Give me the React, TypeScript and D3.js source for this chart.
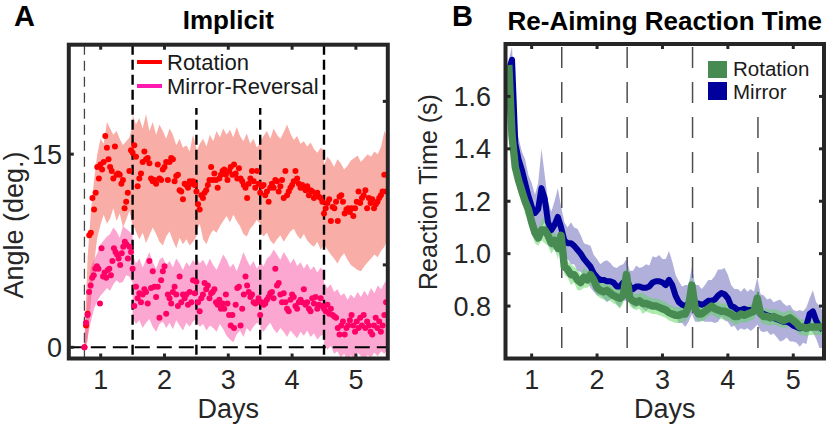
import React from "react";
import * as d3 from "d3";

const FONT = "'Liberation Sans', Arial, Helvetica, sans-serif";

// ---------- Panel A: implicit angle (deg.), one array per day block ----------
const blockStarts = [0.745, 1.5, 2.5, 3.5, 4.5];
const blockEnds = [1.5, 2.5, 3.5, 4.5, 5.5];

const rotationAngle = [
  [0.0, 1.7, 2.6, 8.7, 8.9, 11.6, 10.7, 12.0, 14.0, 13.1, 14.2, 13.8, 14.4, 16.4, 15.5, 14.6, 14.0, 13.7, 13.1, 15.6, 13.4, 13.5, 13.4, 12.7, 13.0, 10.8, 11.3, 12.0, 13.7, 15.3],
  [15.1, 15.7, 14.8, 12.5, 13.1, 13.5, 14.4, 15.2, 14.6, 14.7, 14.3, 13.1, 12.9, 13.0, 12.7, 14.2, 13.1, 13.0, 13.8, 14.0, 14.4, 13.0, 14.4, 14.7, 14.6, 12.9, 13.3, 13.4, 12.2, 12.1, 11.5, 12.7, 12.6, 12.4, 12.9, 12.7, 12.9, 12.6],
  [12.1, 11.1, 10.7, 11.8, 11.6, 12.0, 12.2, 12.6, 13.0, 14.0, 13.0, 13.5, 13.0, 12.4, 13.1, 13.4, 13.7, 13.8, 13.4, 13.0, 13.7, 14.0, 13.4, 14.2, 13.5, 13.1, 13.9, 13.1, 12.9, 12.6, 12.4, 11.6, 12.7, 13.1, 13.7, 12.9, 12.4, 13.7, 12.7],
  [12.0, 12.5, 12.6, 11.8, 12.1, 11.3, 12.4, 12.7, 12.4, 13.0, 12.9, 12.1, 12.5, 13.0, 11.6, 13.7, 11.8, 12.1, 12.4, 12.6, 12.9, 13.7, 13.1, 12.7, 12.4, 12.6, 12.4, 12.2, 12.5, 11.8, 12.2, 12.1, 11.6, 11.8, 12.0, 11.7, 11.6, 11.3],
  [10.4, 10.8, 11.2, 11.5, 9.8, 10.9, 10.8, 11.3, 9.8, 11.7, 11.8, 11.3, 10.4, 10.7, 10.8, 10.5, 10.8, 10.2, 10.8, 11.3, 12.1, 11.2, 11.6, 11.8, 12.2, 10.8, 11.6, 11.2, 11.5, 10.8, 11.1, 11.3, 11.6, 11.8, 12.1, 13.4, 12.1],
];
const mirrorAngle = [
  [0.0, 1.9, 2.5, 4.3, 4.8, 5.4, 5.6, 6.1, 6.3, 6.1, 3.4, 7.7, 5.5, 5.8, 5.4, 6.0, 6.1, 5.6, 6.7, 7.7, 7.4, 7.2, 6.9, 6.4, 7.3, 7.8, 8.2, 8.0, 6.9, 7.8, 7.4],
  [6.1, 3.2, 4.7, 3.8, 4.2, 3.5, 4.1, 4.5, 4.3, 3.4, 6.7, 4.6, 5.9, 4.7, 3.9, 4.7, 2.3, 5.2, 5.9, 6.3, 2.6, 4.1, 3.8, 3.4, 4.3, 4.7, 4.1, 3.2, 5.5, 3.5, 4.1, 3.8, 4.1, 3.3, 4.3, 3.5, 5.2, 4.2],
  [5.1, 3.5, 2.8, 3.8, 4.1, 5.0, 4.5, 4.8, 3.8, 4.2, 4.3, 4.5, 3.5, 3.3, 3.7, 3.0, 3.4, 3.0, 4.1, 3.4, 2.5, 1.7, 2.5, 1.5, 3.3, 4.6, 4.7, 1.7, 3.0, 4.1, 5.5, 4.8, 4.3, 3.9, 4.1, 3.5, 3.4, 3.5, 3.8],
  [2.5, 3.5, 3.3, 3.4, 3.7, 3.9, 4.2, 4.3, 3.8, 6.1, 4.8, 5.0, 4.1, 3.5, 4.2, 3.5, 3.0, 2.8, 3.7, 4.1, 3.9, 3.2, 3.0, 3.5, 3.7, 3.5, 4.5, 3.3, 3.5, 3.0, 2.8, 3.8, 3.4, 3.9, 3.0, 3.3, 3.8, 3.2],
  [3.0, 2.8, 3.3, 2.6, 3.0, 2.5, 2.4, 2.3, 1.5, 1.0, 1.7, 2.0, 1.0, 1.5, 1.7, 2.1, 2.5, 1.7, 1.2, 2.0, 1.5, 2.3, 1.7, 2.5, 1.5, 2.0, 1.7, 1.2, 1.0, 1.7, 2.3, 1.5, 2.0, 1.2, 1.7, 2.5, 3.5],
];

// shaded error bands (upper / lower edge), per day block
const rotationHigh = [
  [0.5, 7.0, 10.5, 13.0, 15.0, 16.2, 15.8, 17.5, 17.0, 16.5, 16.8, 16.2, 15.7, 16.0, 16.3, 17.2],
  [18.1, 17.3, 17.8, 17.0, 18.1, 16.8, 17.5, 16.5, 17.3, 16.8, 16.2, 17.0, 16.5, 15.7, 16.2, 15.5, 15.7, 15.2, 16.5, 15.5],
  [15.2, 15.8, 16.2, 15.6, 16.5, 16.0, 16.8, 16.3, 17.0, 16.5, 16.9, 16.3, 17.1, 16.4, 16.0, 16.6, 15.8, 16.2, 15.5, 15.9],
  [16.0, 16.4, 16.8, 16.2, 17.0, 16.5, 16.2, 16.7, 17.3, 16.6, 16.1, 16.4, 15.8, 16.0, 15.6, 15.9, 15.4, 15.1, 15.5, 15.3],
  [14.2, 14.8, 14.5, 14.0, 14.6, 14.3, 13.8, 14.1, 14.5, 14.7, 14.9, 14.4, 14.7, 15.0, 14.8, 15.2, 15.0, 15.6, 16.8, 16.2],
];
const rotationLow = [
  [-0.3, 0.5, 3.5, 6.5, 8.5, 9.5, 10.3, 9.6, 10.0, 10.8, 9.8, 10.4, 9.3, 9.9, 10.6, 9.4],
  [9.6, 9.0, 8.4, 8.9, 8.1, 8.7, 9.3, 8.8, 8.2, 7.9, 8.6, 9.0, 8.3, 7.7, 8.5, 8.0, 8.4, 7.9, 8.2, 8.6],
  [9.0, 9.6, 8.4, 8.0, 8.7, 9.1, 8.9, 9.4, 9.8, 10.2, 9.7, 10.3, 9.8, 9.4, 8.8, 8.6, 9.2, 9.5, 9.9, 9.6],
  [9.0, 8.6, 8.9, 8.3, 8.0, 8.4, 8.7, 8.2, 8.6, 9.0, 9.2, 8.7, 8.4, 8.8, 8.3, 8.0, 7.8, 8.2, 7.6, 7.9],
  [8.0, 7.6, 7.2, 6.9, 6.5, 7.0, 7.3, 6.8, 6.4, 6.2, 6.0, 5.9, 6.3, 6.6, 6.9, 7.2, 7.0, 7.5, 7.8, 8.5],
];
const mirrorHigh = [
  [0.3, 4.0, 6.2, 6.8, 7.3, 8.0, 8.3, 8.6, 8.8, 9.3, 9.0, 8.5, 9.4, 9.2, 9.0, 8.7],
  [7.2, 6.5, 6.9, 6.2, 6.8, 7.4, 6.6, 6.1, 6.8, 7.0, 6.4, 6.7, 6.2, 6.9, 6.5, 6.0, 6.6, 6.3, 6.8, 6.4],
  [7.0, 6.5, 6.8, 6.3, 6.9, 6.4, 6.0, 6.6, 7.2, 6.8, 6.2, 6.5, 5.9, 6.6, 7.4, 6.8, 6.3, 6.7, 6.1, 6.5],
  [6.6, 6.3, 6.9, 7.1, 7.6, 7.2, 6.8, 7.4, 7.0, 6.5, 6.9, 6.3, 6.6, 6.1, 6.5, 6.0, 6.3, 5.8, 6.2, 5.9],
  [5.0, 4.6, 4.9, 4.3, 4.5, 4.0, 4.2, 3.7, 4.1, 3.8, 4.3, 3.9, 4.4, 4.0, 4.6, 4.2, 4.8, 4.5, 5.0, 5.3],
];
const mirrorLow = [
  [-0.3, 0.8, 2.0, 3.0, 3.6, 4.0, 4.3, 4.6, 4.4, 4.9, 5.2, 5.0, 5.1, 5.6, 5.5, 5.0],
  [2.3, 1.8, 2.1, 1.5, 1.9, 2.2, 1.6, 1.2, 1.8, 2.0, 1.5, 1.9, 1.4, 2.1, 1.7, 1.3, 1.9, 1.6, 2.0, 2.2],
  [2.0, 1.6, 1.8, 1.3, 1.7, 1.5, 1.2, 1.8, 1.4, 0.9, 0.6, 0.4, 1.0, 1.3, 0.8, 1.5, 1.2, 1.6, 1.9, 1.7],
  [1.5, 1.2, 1.6, 1.9, 1.4, 1.1, 1.5, 1.2, 0.8, 1.3, 1.0, 0.7, 1.2, 0.9, 1.3, 0.8, 1.1, 0.6, 0.9, 1.0],
  [0.3, -0.2, 0.1, -0.5, -0.3, -0.8, -0.5, -1.0, -0.6, -0.9, -0.4, -0.7, -1.0, -0.6, -0.8, -0.4, -0.7, -0.3, -0.5, -0.1],
];

const firstLineA = 0.745;
const dayLinesA = [1.5, 2.5, 3.5, 4.5];
const dayTicks = [1, 2, 3, 4, 5];
const angleTicks = [0, 15];
const angleRightTicks = [6.4, 19.1];

// ---------- Panel B: re-aiming reaction time (s), every 0.05 day from 0.65 ----------
const rtStart = 0.65;
const rtStep = 0.05;
const rotationRT = [
  1.72, 1.45, 1.33, 1.28, 1.24, 1.2, 1.17, 1.12,
  1.08, 1.06, 1.09, 1.09, 1.07, 1.04, 1.05, 1.02, 1.07, 0.95,
  0.94, 0.92, 0.92, 0.9, 0.89, 0.91, 0.9, 0.92, 0.9, 0.87,
  0.86, 0.855, 0.86, 0.85, 0.84, 0.835, 0.83, 0.84, 0.92, 0.83,
  0.82, 0.815, 0.82, 0.81, 0.81, 0.805, 0.8, 0.8, 0.795, 0.79,
  0.785, 0.775, 0.77, 0.765, 0.765, 0.77, 0.77, 0.8, 0.88, 0.79,
  0.77, 0.77, 0.78, 0.79, 0.8, 0.79, 0.785, 0.78, 0.78, 0.775,
  0.77, 0.76, 0.76, 0.77, 0.765, 0.77, 0.775, 0.78, 0.83, 0.77,
  0.76, 0.76, 0.755, 0.76, 0.755, 0.75, 0.745, 0.75, 0.755, 0.745,
  0.735, 0.72, 0.72, 0.715, 0.72, 0.72, 0.72, 0.72, 0.72,
];
const mirrorRT = [
  1.7, 1.74, 1.42, 1.36, 1.32, 1.27, 1.22, 1.18,
  1.155, 1.17, 1.25, 1.21, 1.12, 1.09, 1.11, 1.14, 1.1, 1.05,
  1.04, 1.04, 1.03, 1.015, 1.0, 0.98, 0.965, 0.95, 0.925, 0.91,
  0.9, 0.9, 0.895, 0.895, 0.89, 0.875, 0.875, 0.89, 0.9, 0.875,
  0.865, 0.875, 0.875, 0.87, 0.87, 0.875, 0.89, 0.895, 0.895, 0.89,
  0.88, 0.9, 0.88, 0.84, 0.815, 0.805, 0.8, 0.81, 0.86, 0.81,
  0.81, 0.805, 0.81, 0.82, 0.82, 0.825, 0.84, 0.85, 0.845, 0.83,
  0.8, 0.795, 0.785, 0.785, 0.79, 0.785, 0.785, 0.785, 0.82, 0.775,
  0.77, 0.765, 0.76, 0.755, 0.75, 0.745, 0.74, 0.74, 0.735, 0.725,
  0.72, 0.715, 0.72, 0.725, 0.77, 0.78, 0.745, 0.72, 0.71,
];
const rotationRTErr = [
  0.03, 0.04, 0.04, 0.05, 0.04, 0.05, 0.04, 0.04,
  0.04, 0.03, 0.04, 0.05, 0.04, 0.04, 0.03, 0.04, 0.04, 0.03,
  0.03, 0.04, 0.03, 0.04, 0.03, 0.04, 0.03, 0.04, 0.03, 0.03,
  0.03, 0.03, 0.04, 0.03, 0.03, 0.03, 0.04, 0.03, 0.04, 0.03,
  0.03, 0.03, 0.03, 0.04, 0.03, 0.03, 0.03, 0.03, 0.03, 0.03,
  0.03, 0.03, 0.03, 0.03, 0.03, 0.03, 0.03, 0.03, 0.04, 0.03,
  0.03, 0.03, 0.03, 0.03, 0.03, 0.03, 0.03, 0.03, 0.03, 0.03,
  0.03, 0.03, 0.03, 0.03, 0.03, 0.03, 0.03, 0.03, 0.04, 0.03,
  0.03, 0.03, 0.03, 0.03, 0.03, 0.03, 0.03, 0.03, 0.03, 0.03,
  0.03, 0.03, 0.03, 0.03, 0.03, 0.03, 0.03, 0.03, 0.03,
];
const mirrorRTErr = [
  0.04, 0.05, 0.07, 0.08, 0.07, 0.09, 0.08, 0.09,
  0.07, 0.1, 0.15, 0.09, 0.08, 0.07, 0.09, 0.11, 0.08, 0.07,
  0.06, 0.08, 0.07, 0.08, 0.07, 0.06, 0.07, 0.08, 0.07, 0.07,
  0.06, 0.07, 0.08, 0.07, 0.06, 0.07, 0.08, 0.07, 0.08, 0.06,
  0.07, 0.08, 0.07, 0.08, 0.09, 0.08, 0.1, 0.09, 0.1, 0.09,
  0.1, 0.11, 0.09, 0.08, 0.08, 0.07, 0.08, 0.07, 0.09, 0.07,
  0.07, 0.06, 0.07, 0.08, 0.08, 0.09, 0.1, 0.09, 0.1, 0.09,
  0.08, 0.07, 0.08, 0.07, 0.08, 0.07, 0.08, 0.07, 0.09, 0.07,
  0.07, 0.06, 0.07, 0.06, 0.07, 0.08, 0.07, 0.06, 0.07, 0.06,
  0.06, 0.07, 0.06, 0.07, 0.06, 0.08, 0.07, 0.08, 0.07,
];
const dayLinesB = [1.46, 2.46, 3.46, 4.46];
const rtTicks = [0.8, 1.0, 1.2, 1.4, 1.6];

const FRAME = "#262626";

function blockDots(blocks: number[][]) {
  return blocks.flatMap((vals, b) =>
    vals.map((v, i) => ({ x: blockStarts[b] + (i * (blockEnds[b] - blockStarts[b])) / vals.length, v }))
  );
}
function blockBand(high: number[][], low: number[][]) {
  return high.flatMap((hs, b) =>
    hs.map((h, i) => ({ x: blockStarts[b] + (i * (blockEnds[b] - blockStarts[b])) / (hs.length - 1), lo: low[b][i], hi: h }))
  );
}

export default function App() {
  // ---- scales ----
  const xA = d3.scaleLinear().domain([0.5, 5.5]).range([68.8, 387.8]);
  const yA = d3.scaleLinear().domain([-0.87, 23.5]).range([358.5, 44.7]);
  const xB = d3.scaleLinear().domain([0.6, 5.47]).range([505.5, 824]);
  const yB = d3.scaleLinear().domain([0.6, 1.8]).range([358.5, 44]);

  const bandA = d3.area<{ x: number; lo: number; hi: number }>()
    .x(d => xA(d.x)).y0(d => yA(d.lo)).y1(d => yA(d.hi));
  const rotBand = blockBand(rotationHigh, rotationLow);
  const mirBand = blockBand(mirrorHigh, mirrorLow);
  const rotDots = blockDots(rotationAngle);
  const mirDots = blockDots(mirrorAngle);

  const rt = rotationRT.map((v, i) => ({ x: rtStart + i * rtStep, v, e: rotationRTErr[i] }));
  const mr = mirrorRT.map((v, i) => ({ x: rtStart + i * rtStep, v, e: mirrorRTErr[i] }));
  const bandB = d3.area<{ x: number; v: number; e: number }>()
    .x(d => xB(d.x)).y0(d => yB(d.v - d.e)).y1(d => yB(d.v + d.e));
  const lineB = d3.line<{ x: number; v: number; e: number }>()
    .x(d => xB(d.x)).y(d => yB(d.v));

  const [a0, a1] = xA.range();
  const [aBot, aTop] = yA.range();
  const [b0, b1] = xB.range();
  const [bBot, bTop] = yB.range();
  const tk = 5;
  const TXT = "#262626";

  return (
    <div style={{ position: "absolute", left: 0, top: 0 }}>
      <svg width={828} height={424} viewBox="0 0 828 424" style={{ display: "block", background: "#fff" }} fontFamily={FONT}>
        <defs>
          <clipPath id="clipA"><rect x={a0} y={aTop} width={a1 - a0} height={aBot - aTop} /></clipPath>
          <clipPath id="clipB"><rect x={b0} y={bTop} width={b1 - b0} height={bBot - bTop} /></clipPath>
        </defs>

        {/* ================= Panel A ================= */}
        <text x={14} y={26} fontSize={29} fontWeight="bold">A</text>
        <text x={(a0 + a1) / 2} y={29} fontSize={26} fontWeight="bold" textAnchor="middle">Implicit</text>

        <g clipPath="url(#clipA)">
          <path d={bandA(rotBand) ?? ""} fill="#f46a5e" fillOpacity={0.55} />
          <path d={bandA(mirBand) ?? ""} fill="#f750a6" fillOpacity={0.5} />
          <line x1={xA(firstLineA)} x2={xA(firstLineA)} y1={aTop} y2={aBot} stroke="#444" strokeWidth={1.3} strokeDasharray="10,6" />
          {dayLinesA.map(d => (
            <line key={d} x1={xA(d)} x2={xA(d)} y1={aTop} y2={aBot} stroke="#000" strokeWidth={2.4} strokeDasharray="10,5" />
          ))}
          <line x1={a0} x2={a1} y1={yA(0)} y2={yA(0)} stroke="#000" strokeWidth={2} strokeDasharray="15,7" />
          {rotDots.map((d, i) => (
            <circle key={"r" + i} cx={xA(d.x)} cy={yA(d.v)} r={3} fill="#ff0000" />
          ))}
          {mirDots.map((d, i) => (
            <circle key={"m" + i} cx={xA(d.x)} cy={yA(d.v)} r={3} fill="#ff0066" />
          ))}
          {/* legend box */}
          <rect x={xA(1.5) + 2} y={aTop} width={xA(4.5) - xA(1.5) - 4} height={108 - aTop} fill="#fff" />
        </g>
        <line x1={137} x2={162} y1={62} y2={62} stroke="#ff0000" strokeWidth={4} />
        <text x={167} y={70} fontSize={22} fill="#1a1a1a">Rotation</text>
        <line x1={137} x2={162} y1={86} y2={86} stroke="#ff19b0" strokeWidth={4} />
        <text x={167} y={94} fontSize={22} fill="#1a1a1a">Mirror-Reversal</text>

        {/* ticks A */}
        {dayTicks.map(d => (
          <g key={d} stroke={FRAME} strokeWidth={3}>
            <line x1={xA(d)} x2={xA(d)} y1={aBot} y2={aBot - tk} />
            <line x1={xA(d)} x2={xA(d)} y1={aTop} y2={aTop + tk} />
          </g>
        ))}
        {angleTicks.map(v => (
          <line key={v} x1={a0} x2={a0 + tk} y1={yA(v)} y2={yA(v)} stroke={FRAME} strokeWidth={3} />
        ))}
        {angleRightTicks.map(v => (
          <line key={v} x1={a1} x2={a1 - tk} y1={yA(v)} y2={yA(v)} stroke={FRAME} strokeWidth={3} />
        ))}
        <rect x={a0} y={aTop} width={a1 - a0} height={aBot - aTop} fill="none" stroke={FRAME} strokeWidth={4} />
        {dayTicks.map(d => (
          <text key={d} x={xA(d)} y={389} fontSize={27} textAnchor="middle" fill={TXT}>{d}</text>
        ))}
        {angleTicks.map(v => (
          <text key={v} x={62} y={yA(v) + 9.5} fontSize={27} textAnchor="end" fill={TXT}>{v}</text>
        ))}
        <text x={(a0 + a1) / 2} y={418} fontSize={27} textAnchor="middle" fill={TXT}>Days</text>
        <text transform="translate(23,225) rotate(-90)" fontSize={27} textAnchor="middle" fill={TXT}>Angle (deg.)</text>

        {/* ================= Panel B ================= */}
        <text x={452} y={26} fontSize={29} fontWeight="bold">B</text>
        <text x={(b0 + b1) / 2} y={30} fontSize={26} fontWeight="bold" textAnchor="middle">Re-Aiming Reaction Time</text>

        <g clipPath="url(#clipB)">
          {dayLinesB.map(d => (
            <line key={d} x1={xB(d)} x2={xB(d)} y1={bTop + 3} y2={bBot} stroke="#4d4d4d" strokeWidth={1.5} strokeDasharray="21,14" />
          ))}
          <rect x={703} y={bTop} width={b1 - 703} height={112 - bTop} fill="#fff" />
          <path d={bandB(mr) ?? ""} fill="#5050b0" fillOpacity={0.45} />
          <path d={bandB(rt) ?? ""} fill="#5cd65c" fillOpacity={0.5} />
          <path d={lineB(mr) ?? ""} fill="none" stroke="#00009c" strokeWidth={6} strokeLinejoin="round" />
          <path d={lineB(rt) ?? ""} fill="none" stroke="#478a52" strokeWidth={7.5} strokeLinejoin="round" />
        </g>
        <rect x={708} y={61} width={19} height={17} fill="#478a52" />
        <rect x={708} y={82} width={19} height={18} fill="#00009c" />
        <text x={733} y={76} fontSize={20.5} fill="#1a1a1a">Rotation</text>
        <text x={733} y={99} fontSize={20.5} fill="#1a1a1a">Mirror</text>

        {dayTicks.map(d => (
          <g key={d} stroke={FRAME} strokeWidth={3}>
            <line x1={xB(d)} x2={xB(d)} y1={bBot} y2={bBot - tk} />
            <line x1={xB(d)} x2={xB(d)} y1={bTop} y2={bTop + tk} />
          </g>
        ))}
        {rtTicks.map(v => (
          <g key={v} stroke={FRAME} strokeWidth={3}>
            <line x1={b0} x2={b0 + tk} y1={yB(v)} y2={yB(v)} />
            <line x1={b1} x2={b1 - tk} y1={yB(v)} y2={yB(v)} />
          </g>
        ))}
        <rect x={b0} y={bTop} width={b1 - b0} height={bBot - bTop} fill="none" stroke={FRAME} strokeWidth={4} />
        {dayTicks.map(d => (
          <text key={d} x={xB(d)} y={389} fontSize={27} textAnchor="middle" fill={TXT}>{d}</text>
        ))}
        {rtTicks.map(v => (
          <text key={v} x={491} y={yB(v) + 9.5} fontSize={27} textAnchor="end" fill={TXT}>{v.toFixed(1)}</text>
        ))}
        <text x={(b0 + b1) / 2} y={418} fontSize={27} textAnchor="middle" fill={TXT}>Days</text>
        <text transform="translate(437,192) rotate(-90)" fontSize={25} textAnchor="middle" fill={TXT}>Reaction Time (s)</text>
      </svg>
    </div>
  );
}
